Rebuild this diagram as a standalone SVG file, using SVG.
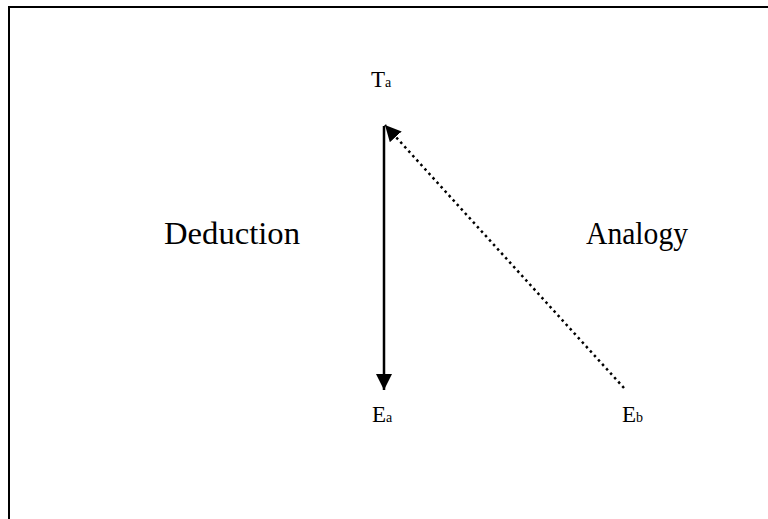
<svg xmlns="http://www.w3.org/2000/svg" width="768" height="519" viewBox="0 0 768 519">
<defs>
<style>
.t{font-family:"Liberation Serif","Times New Roman",serif;fill:#000}
.big{font-size:31px}
.n{font-size:23px}
.s{font-size:14px}
</style>
<marker id="ah2" viewBox="0 0 10 10" refX="10" refY="5" markerWidth="16" markerHeight="16" markerUnits="userSpaceOnUse" orient="auto">
<path d="M0,0 L10,5 L0,10 z" fill="#000"/>
</marker>
</defs>
<rect width="768" height="519" fill="#fff"/>
<path d="M9,530 V7 H780" fill="none" stroke="#000" stroke-width="2"/>
<g id="Ta"><text class="t n" x="371" y="87">T<tspan class="s">a</tspan></text></g>
<g id="Ea"><text class="t n" x="372" y="422">E<tspan class="s">a</tspan></text></g>
<g id="Eb"><text class="t n" x="622" y="422">E<tspan class="s">b</tspan></text></g>
<g id="Deduction"><text class="t big" x="164" y="244" textLength="136" lengthAdjust="spacingAndGlyphs">Deduction</text></g>
<g id="Analogy"><text class="t big" x="586" y="244" textLength="102" lengthAdjust="spacingAndGlyphs">Analogy</text></g>
<g id="connectors">
<line x1="384" y1="126" x2="384" y2="390" stroke="#000" stroke-width="2.5" marker-end="url(#ah2)"/>
<line x1="624" y1="388" x2="385" y2="125" stroke="#000" stroke-width="2.5" stroke-dasharray="2.5,3.5" marker-end="url(#ah2)"/>
</g>
</svg>
